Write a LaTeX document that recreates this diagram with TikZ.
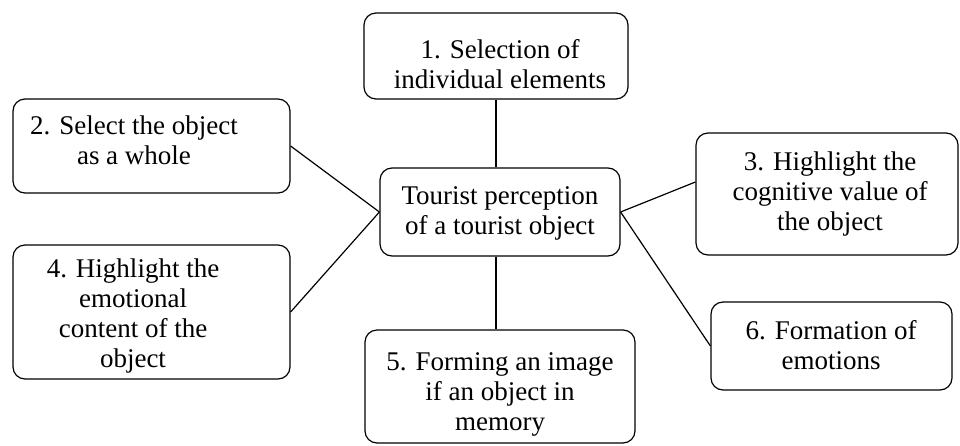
\documentclass[tikz,border=0pt]{standalone}
\usepackage{fontspec}
\setmainfont{Liberation Serif}
\begin{document}
\begin{tikzpicture}[x=1pt,y=-1pt,
  box/.style={draw, line width=1.2pt, rounded corners=12pt, inner sep=0pt},
  txt/.style={inner sep=0pt, align=center, font=\fontsize{27}{30}\selectfont},
  link/.style={line width=1.2pt}]
\useasboundingbox (0,0) rectangle (960,445);
% boxes
\node[box, minimum width=264pt, minimum height=86pt]  (b1) at (496,56) {};
\node[box, minimum width=277pt, minimum height=94pt]  (b2) at (151.5,146) {};
\node[box, minimum width=240pt, minimum height=88pt]  (c)  at (500,212) {};
\node[box, minimum width=262pt, minimum height=122pt] (b3) at (827,194) {};
\node[box, minimum width=277pt, minimum height=134pt] (b4) at (151.5,312) {};
\node[box, minimum width=270pt, minimum height=113pt] (b5) at (500,386.5) {};
\node[box, minimum width=241pt, minimum height=88pt]  (b6) at (831.5,346) {};
% texts
\node[txt] (t1) at (500,67)  {\strut 1. Selection of\\\strut individual elements};
\node[txt] (t2) at (134,143) {\strut 2. Select the object\\\strut as a whole};
\node[txt] (tc) at (500,213) {\strut Tourist perception\\\strut of a tourist object};
\node[txt] (t3) at (830,194) {\strut 3. Highlight the\\\strut cognitive value of\\\strut the object};
\node[txt] (t4) at (133,316) {\strut 4. Highlight the\\\strut emotional\\\strut content of the\\\strut object};
\node[txt] (t5) at (500,394) {\strut 5. Forming an image\\\strut if an object in\\\strut memory};
\node[txt] (t6) at (831,348) {\strut 6. Formation of\\\strut emotions};
% connectors
\draw[link] (b1.south) -- (b1.south |- c.north);
\draw[link] (b1.south |- c.south) -- (b1.south |- b5.north);
\draw[link] (b2.east) -- (c.west);
\draw[link] (b4.east) -- (c.west);
\draw[link] (c.east) -- ([yshift=12pt]b3.west);
\draw[link] (c.east) -- (b6.west);
\end{tikzpicture}
\end{document}
